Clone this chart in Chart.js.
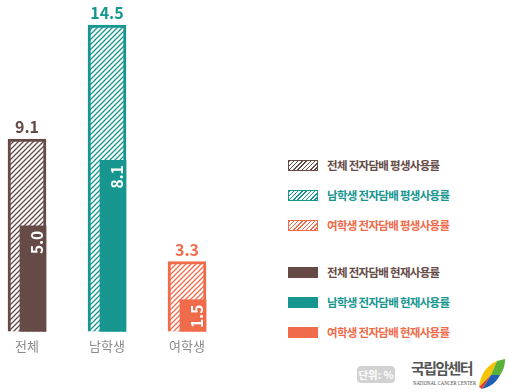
<!DOCTYPE html>
<html>
<head>
<meta charset="utf-8">
<script src="https://cdn.jsdelivr.net/npm/chart.js@4.4.0/dist/chart.umd.min.js"></script>
<style>
    body { margin: 0; background: #fff; font-family: "Noto Sans CJK KR", sans-serif; }
    #wrap { position: relative; width: 508px; height: 392px; overflow: hidden; }
    #chartBox { position: absolute; left: 0; top: 0; width: 260px; height: 392px; }
    .item { position: absolute; left: 288px; height: 14px; display: flex; align-items: center; white-space: nowrap; }
    .swatch { width: 30px; height: 11px; box-sizing: border-box; margin-right: 9px; }
    .item span { font-size: 11.5px; font-weight: bold; letter-spacing: -0.7px; }
    #unit { position: absolute; left: 357px; top: 366px; width: 38px; height: 17px; border-radius: 4px;
            background: #d2d2d2; color: #fff; font-size: 10.5px; font-weight: bold; line-height: 17px; text-align: center; }
    #ncc { position: absolute; left: 411px; top: 358px; color: #555; font-size: 15px; font-weight: bold; letter-spacing: -1.6px; line-height: 20px; }
    #nccEn { position: absolute; left: 413px; top: 380px; color: #444; font-family: "Liberation Serif", serif; font-size: 6px;
             white-space: nowrap; transform: scaleX(0.78); transform-origin: left top; }
    #leaf { position: absolute; left: 476px; top: 358px; }
</style>
</head>
<body>
<div id="wrap">
    <div id="chartBox"><canvas id="smokeChart"></canvas></div>
    <div id="legend"></div>
    <div id="unit">단위: %</div>
    <div id="ncc">국립암센터</div>
    <div id="nccEn">NATIONAL CANCER CENTER</div>
    <svg id="leaf" width="30" height="32" viewBox="0 0 30 32">
        <path d="M3,29 C4,17 11,7 21,3 L15,17 Z" fill="#f5c400"/>
        <path d="M21,3 L29,1 C29,8 27,13 24,17 L15,17 Z" fill="#5bb03a"/>
        <path d="M15,17 L24,17 C21,24 14,29 6,31 Z" fill="#1f5fb5"/>
        <path d="M3,29 L15,17 L6,31 Z" fill="#e33a2c"/>
    </svg>
</div>

<script>
const groups = ['전체', '남학생', '여학생'];
const lifetimeRates = [9.1, 14.5, 3.3];   // 평생사용률
const currentRates = [5.0, 8.1, 1.5];     // 현재사용률
const barColors = ['#654a46', '#16968f', '#ef6b4a'];
const lifetimeLegend = ['전체 전자담배 평생사용률', '남학생 전자담배 평생사용률', '여학생 전자담배 평생사용률'];
const currentLegend = ['전체 전자담배 현재사용률', '남학생 전자담배 현재사용률', '여학생 전자담배 현재사용률'];

const INNER_SHIFT = 6;

function makeHatch(color) {
    const p = 5;
    const c = document.createElement('canvas');
    c.width = p; c.height = p;
    const g = c.getContext('2d');
    g.fillStyle = '#fff';
    g.fillRect(0, 0, p, p);
    g.strokeStyle = color;
    g.lineWidth = 1.3;
    g.beginPath();
    g.moveTo(0, p); g.lineTo(p, 0);
    g.moveTo(-1, 1); g.lineTo(1, -1);
    g.moveTo(p - 1, p + 1); g.lineTo(p + 1, p - 1);
    g.stroke();
    return g.createPattern(c, 'repeat');
}

// legend (html)
const legendBox = document.getElementById('legend');
const rows = [];
lifetimeLegend.forEach((t, i) => rows.push({ text: t, color: barColors[i], hatch: true }));
currentLegend.forEach((t, i) => rows.push({ text: t, color: barColors[i], hatch: false }));
rows.forEach((r, i) => {
    const div = document.createElement('div');
    div.className = 'item';
    div.style.top = (158 + i * 30 + (i >= 3 ? 17 : 0)) + 'px';
    const sw = document.createElement('div');
    sw.className = 'swatch';
    if (r.hatch) {
        sw.style.border = '1.5px solid ' + r.color;
        sw.style.background = 'repeating-linear-gradient(135deg, ' + r.color + ' 0 1px, #fff 1px 3px)';
    } else {
        sw.style.background = r.color;
    }
    const label = document.createElement('span');
    label.textContent = r.text;
    label.style.color = r.color;
    div.appendChild(sw);
    div.appendChild(label);
    legendBox.appendChild(div);
});

const shiftInner = {
    id: 'shiftInner',
    beforeDatasetDraw(chart, args) {
        if (args.index === 0) {
            chart.ctx.save();
            chart.ctx.translate(INNER_SHIFT, 0);
        }
    },
    afterDatasetDraw(chart, args) {
        if (args.index === 0) chart.ctx.restore();
    }
};

const valueLabels = {
    id: 'valueLabels',
    afterDatasetsDraw(chart) {
        const ctx = chart.ctx;
        const outer = chart.getDatasetMeta(1);
        const inner = chart.getDatasetMeta(0);
        ctx.save();
        ctx.font = 'bold 16px "Noto Sans CJK KR"';
        ctx.textAlign = 'center';
        ctx.textBaseline = 'alphabetic';
        outer.data.forEach((bar, i) => {
            ctx.fillStyle = barColors[i];
            ctx.fillText(lifetimeRates[i].toFixed(1), bar.x, bar.y - 6);
        });
        ctx.font = 'bold 15.5px "Noto Sans CJK KR"';
        ctx.fillStyle = '#fff';
        ctx.textAlign = 'right';
        inner.data.forEach((bar, i) => {
            ctx.save();
            ctx.translate(bar.x + INNER_SHIFT + 10, bar.y + 5);
            ctx.rotate(-Math.PI / 2);
            ctx.fillText(currentRates[i].toFixed(1), 0, 0);
            ctx.restore();
        });
        ctx.restore();
    }
};

new Chart(document.getElementById('smokeChart'), {
    type: 'bar',
    data: {
        labels: groups,
        datasets: [
            {
                label: '현재사용률',
                data: currentRates,
                backgroundColor: barColors,
                borderWidth: 0,
                barThickness: 26,
                grouped: false,
                clip: false,
                order: 0
            },
            {
                label: '평생사용률',
                data: lifetimeRates,
                backgroundColor: barColors.map(makeHatch),
                borderColor: barColors,
                borderWidth: 3,
                barThickness: 38,
                grouped: false,
                clip: false,
                order: 1
            }
        ]
    },
    options: {
        responsive: true,
        maintainAspectRatio: false,
        animation: false,
        layout: { padding: { left: 27, right: 73, top: 25, bottom: 31 } },
        plugins: {
            legend: { display: false },
            tooltip: { enabled: false }
        },
        scales: {
            x: {
                offset: false,
                grid: { display: false, drawTicks: false },
                border: { display: false },
                ticks: { color: '#8a8a8a', padding: 7, maxRotation: 0, font: { family: '"Noto Sans CJK KR"', size: 13 } }
            },
            y: {
                display: false,
                min: 0,
                max: 14.5
            }
        }
    },
    plugins: [shiftInner, valueLabels]
});
</script>
</body>
</html>
